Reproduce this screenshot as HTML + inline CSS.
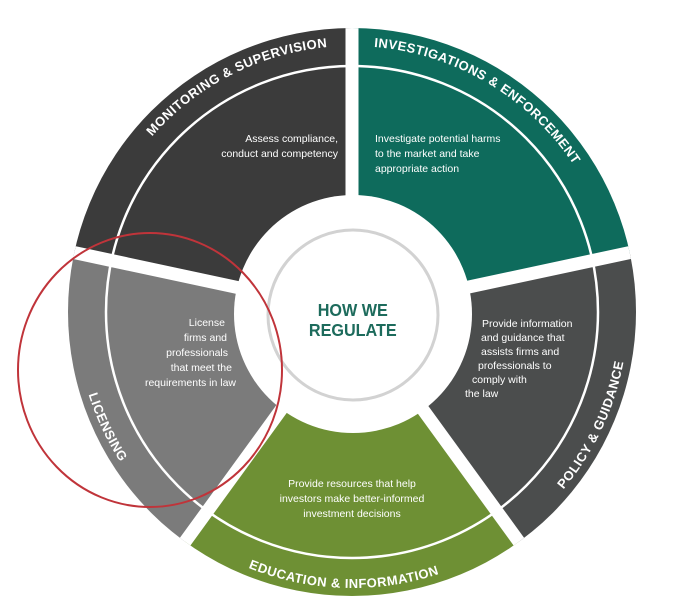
<!DOCTYPE html>
<html><head><meta charset="utf-8"><style>
html,body{margin:0;padding:0;background:#fff;width:700px;height:615px;overflow:hidden}
svg{display:block}
text{font-family:"Liberation Sans",sans-serif}
</style></head><body>
<svg width="700" height="615" viewBox="0 0 700 615" xmlns="http://www.w3.org/2000/svg">
<defs>
<clipPath id="c"><circle cx="352" cy="312" r="284"/></clipPath>
<path id="tp" d="M 86 312 A 266 266 0 0 1 618 312"/>
<path id="bp" d="M 76 312 A 276 276 0 0 0 628 312"/>
</defs>
<g clip-path="url(#c)">
<path d="M352 312 L352 0 L665 0 L665 245 Z" fill="#0e6b5c"/>
<path d="M352 312 L665 245 L665 615 L520 615 L520 543 Z" fill="#4b4d4d"/>
<path d="M352 312 L520 543 L520 615 L180 615 L184 543 Z" fill="#6e9034"/>
<path d="M352 312 L184 543 L39 615 L39 245 Z" fill="#7b7b7b"/>
<path d="M352 312 L39 245 L39 0 L352 0 Z" fill="#3b3b3b"/>
<g stroke="#fff" stroke-width="13">
<line x1="352" y1="312" x2="352" y2="0"/>
<line x1="352" y1="312" x2="665" y2="245"/>
<line x1="352" y1="312" x2="530" y2="557"/>
<line x1="352" y1="312" x2="174" y2="557"/>
<line x1="352" y1="312" x2="39" y2="245"/>
</g>
</g>
<circle cx="352" cy="312" r="246" fill="none" stroke="#fff" stroke-width="2.5"/>
<circle cx="353" cy="314" r="119" fill="#fff"/>
<circle cx="353" cy="315" r="85" fill="#fff" stroke="#d2d2d2" stroke-width="3"/>
<text x="353" y="316" text-anchor="middle" font-size="18" font-weight="bold" fill="#1d6b5c" transform="scale(0.9 1) translate(39 0)">HOW WE</text>
<text x="353" y="336" text-anchor="middle" font-size="18" font-weight="bold" fill="#1d6b5c" transform="scale(0.9 1) translate(39 0)">REGULATE</text>
<g fill="#fff" font-size="13" font-weight="bold" letter-spacing="0.5">
<text><textPath href="#tp" startOffset="35%" text-anchor="middle">MONITORING &amp; SUPERVISION</textPath></text>
<text><textPath href="#tp" startOffset="67%" text-anchor="middle">INVESTIGATIONS &amp; ENFORCEMENT</textPath></text>
<text><textPath href="#bp" startOffset="14%" text-anchor="middle">LICENSING</textPath></text>
<text><textPath href="#bp" startOffset="49%" text-anchor="middle">EDUCATION &amp; INFORMATION</textPath></text>
<text><textPath href="#bp" startOffset="86%" text-anchor="middle">POLICY &amp; GUIDANCE</textPath></text>
</g>
<g fill="#fff" font-size="10.5">
<text x="338" y="142" text-anchor="end">Assess compliance,</text>
<text x="338" y="157" text-anchor="end">conduct and competency</text>
<text x="375" y="142">Investigate potential harms</text>
<text x="375" y="157">to the market and take</text>
<text x="375" y="172">appropriate action</text>
<text x="225" y="326" text-anchor="end">License</text>
<text x="227" y="341" text-anchor="end">firms and</text>
<text x="228" y="356" text-anchor="end">professionals</text>
<text x="232" y="371" text-anchor="end">that meet the</text>
<text x="236" y="386" text-anchor="end">requirements in law</text>
<text x="482" y="327">Provide information</text>
<text x="481" y="341">and guidance that</text>
<text x="481" y="355">assists firms and</text>
<text x="478" y="369">professionals to</text>
<text x="472" y="383">comply with</text>
<text x="465" y="397">the law</text>
<text x="352" y="487" text-anchor="middle">Provide resources that help</text>
<text x="352" y="502" text-anchor="middle">investors make better-informed</text>
<text x="352" y="517" text-anchor="middle">investment decisions</text>
</g>
<ellipse cx="150" cy="370" rx="132" ry="137" fill="none" stroke="#c0343a" stroke-width="2"/>
</svg>
</body></html>
